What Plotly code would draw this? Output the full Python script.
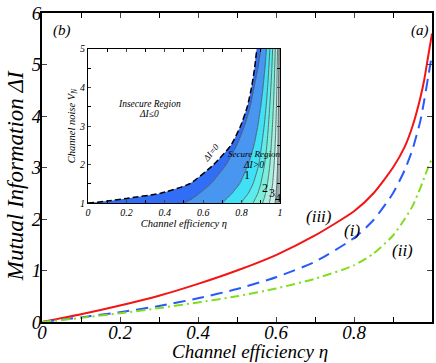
import plotly.graph_objects as go

# ---- main panel (a) data ----
eta = [0.0, 0.1, 0.2, 0.3, 0.4, 0.5, 0.6, 0.7, 0.8, 0.85, 0.9, 0.93, 0.95, 0.97, 0.98, 0.99, 1.0]
dI_iii = [0.0, 0.15, 0.32, 0.51, 0.74, 1.0, 1.3, 1.68, 2.15, 2.5, 3.0, 3.4, 3.8, 4.35, 4.7, 5.15, 5.6]
dI_i = [0.0, 0.09, 0.19, 0.31, 0.46, 0.64, 0.87, 1.17, 1.63, 1.98, 2.5, 2.95, 3.35, 3.9, 4.3, 4.75, 5.2]
dI_ii = [0.0, 0.08, 0.17, 0.27, 0.38, 0.5, 0.65, 0.84, 1.1, 1.33, 1.68, 2.0, 2.25, 2.6, 2.8, 3.0, 3.18]

x_ticks = [0, 0.2, 0.4, 0.6, 0.8, 1]
x_ticklabels = ["0", "0.2", "0.4", "0.6", "0.8", "1"]
y_ticks = [0, 1, 2, 3, 4, 5, 6]
y_ticklabels = ["0", "1", "2", "3", "4", "5", "6"]

# ---- inset (b) data: contour band boundaries (eta at each V_N level) ----
VN = [1.0, 1.05, 1.12, 1.25, 1.5, 2.0, 2.5, 3.0, 3.5, 4.0, 4.5, 5.0]
b0 = [0.0, 0.1, 0.2, 0.375, 0.53, 0.655, 0.745, 0.795, 0.83, 0.852, 0.868, 0.88]
b1 = [0.50, 0.52, 0.545, 0.58, 0.64, 0.72, 0.775, 0.815, 0.845, 0.865, 0.885, 0.90]
b2 = [0.70, 0.71, 0.725, 0.75, 0.79, 0.835, 0.865, 0.885, 0.90, 0.912, 0.922, 0.93]
b3 = [0.80, 0.805, 0.815, 0.835, 0.86, 0.89, 0.905, 0.918, 0.928, 0.936, 0.942, 0.948]
b4 = [0.86, 0.865, 0.872, 0.885, 0.90, 0.92, 0.932, 0.94, 0.947, 0.953, 0.958, 0.962]
b5 = [0.91, 0.913, 0.918, 0.925, 0.935, 0.948, 0.955, 0.961, 0.966, 0.97, 0.973, 0.976]
b6 = [0.945, 0.947, 0.95, 0.955, 0.962, 0.97, 0.975, 0.979, 0.982, 0.984, 0.986, 0.988]
b7 = [0.975, 0.976, 0.978, 0.98, 0.984, 0.988, 0.99, 0.991, 0.992, 0.993, 0.994, 0.995]
edge = [1.0] * len(VN)
boundaries = [b0, b1, b2, b3, b4, b5, b6, b7, edge]
band_colors = ["rgb(50,110,245)", "rgb(72,150,240)", "rgb(64,224,246)", "rgb(92,236,236)",
               "rgb(120,240,220)", "rgb(165,240,225)", "rgb(205,240,240)", "rgb(150,168,168)"]

inset_x_ticks = [0, 0.2, 0.4, 0.6, 0.8, 1]
inset_x_labels = ["0", "0.2", "0.4", "0.6", "0.8", "1"]
inset_y_ticks = [1, 2, 3, 4, 5]
inset_y_labels = ["1", "2", "3", "4", "5"]

SERIF = "Liberation Serif"


def it(labels):
    return ["<i>%s</i>" % s for s in labels]


fig = go.Figure()

# main curves
fig.add_trace(go.Scatter(x=eta, y=dI_iii, mode="lines",
                         line=dict(color="rgb(245,20,20)", width=2, shape="spline", smoothing=0.6),
                         showlegend=False, xaxis="x", yaxis="y"))
fig.add_trace(go.Scatter(x=eta, y=dI_i, mode="lines",
                         line=dict(color="rgb(40,90,250)", width=2, dash="12px,7px", shape="spline", smoothing=0.6),
                         showlegend=False, xaxis="x", yaxis="y"))
fig.add_trace(go.Scatter(x=eta, y=dI_ii, mode="lines",
                         line=dict(color="rgb(130,220,30)", width=2, dash="9px,4px,2px,4px", shape="spline",
                                   smoothing=0.6),
                         showlegend=False, xaxis="x", yaxis="y"))

# inset bands
for k in range(len(band_colors)):
    left = boundaries[k]
    right = boundaries[k + 1]
    xs = left + right[::-1]
    ys = VN + VN[::-1]
    fig.add_trace(go.Scatter(x=xs, y=ys, mode="lines", fill="toself", fillcolor=band_colors[k],
                             line=dict(width=0, color=band_colors[k], shape="spline", smoothing=0.5),
                             showlegend=False, xaxis="x2", yaxis="y2", hoverinfo="skip"))
# inset contour lines
for k in range(1, len(boundaries) - 1):
    fig.add_trace(go.Scatter(x=boundaries[k], y=VN, mode="lines",
                             line=dict(color="rgb(60,60,60)", width=0.7, shape="spline", smoothing=0.5),
                             showlegend=False, xaxis="x2", yaxis="y2", hoverinfo="skip"))
fig.add_trace(go.Scatter(x=b0, y=VN, mode="lines",
                         line=dict(color="black", width=1.5, dash="6px,3px", shape="spline", smoothing=0.5),
                         showlegend=False, xaxis="x2", yaxis="y2", hoverinfo="skip"))

tickf = dict(family=SERIF, size=19, color="black")
fig.update_layout(
    width=436, height=363,
    margin=dict(l=42, r=4, t=13, b=41),
    paper_bgcolor="white", plot_bgcolor="white",
    font=dict(family=SERIF, color="black"),
    xaxis=dict(domain=[0, 1], range=[0, 1], tickvals=x_ticks, ticktext=it(x_ticklabels), ticks="inside", ticklen=5,
               tickwidth=1, showline=True, linecolor="black", linewidth=2, mirror="ticks", showgrid=False,
               zeroline=False, tickfont=tickf, automargin=False, ticklabelstandoff=-8,
               minor=dict(dtick=0.1, ticks="inside", ticklen=5, tickcolor="black")),
    yaxis=dict(domain=[0, 1], range=[0, 6], tickvals=y_ticks, ticktext=it(y_ticklabels), ticks="inside", ticklen=5,
               tickwidth=1, showline=True, linecolor="black", linewidth=2, mirror="ticks", showgrid=False,
               zeroline=False, tickfont=tickf, automargin=False, ticklabelstandoff=-5),
    xaxis2=dict(domain=[0.118, 0.610], anchor="y2", range=[0, 1], tickvals=inset_x_ticks,
                ticktext=it(inset_x_labels), automargin=False,
                ticks="inside", ticklen=3, tickwidth=0.8, showline=True, linecolor="black", linewidth=1.2,
                mirror="ticks", showgrid=False, zeroline=False,
                tickfont=dict(family=SERIF, size=10, color="black"),
                minor=dict(dtick=0.1, ticks="inside", ticklen=3, tickcolor="black"),
                title=dict(text="<i>Channel efficiency η</i>", font=dict(family=SERIF, size=10.5, color="black"),
                           standoff=0)),
    yaxis2=dict(domain=[0.385, 0.8835], anchor="x2", range=[1, 5], tickvals=inset_y_ticks,
                ticktext=it(inset_y_labels), ticks="inside", automargin=False,
                ticklen=3, tickwidth=0.8, showline=True, linecolor="black", linewidth=1.2, mirror="ticks",
                showgrid=False, zeroline=False,
                tickfont=dict(family=SERIF, size=10, color="black"),
                minor=dict(dtick=0.5, ticks="inside", ticklen=3, tickcolor="black"),
                title=dict(text="<i>Channel noise V<sub>N</sub></i>",
                           font=dict(family=SERIF, size=10.5, color="black"), standoff=0)),
)

ann_font = dict(family=SERIF, size=15, color="black")
small_font = dict(family=SERIF, size=9.5, color="black")
annotations = [
    # main axis titles
    dict(text="<i>Channel efficiency η</i>", x=0.533, y=-0.097, xref="paper", yref="paper",
         font=dict(family=SERIF, size=19, color="black")),
    dict(text="<i>Mutual Information ΔI</i>", x=-0.069, y=0.472, xref="paper", yref="paper",
         textangle=-90, font=dict(family=SERIF, size=23, color="black")),
    dict(text="<i>(a)</i>", x=0.969, y=0.942, xref="paper", yref="paper", font=ann_font),
    dict(text="<i>(b)</i>", x=0.051, y=0.942, xref="paper", yref="paper", font=ann_font),
    dict(text="<i>(iii)</i>", x=0.71, y=2.04, xref="x", yref="y", font=dict(ann_font, size=17)),
    dict(text="<i>(i)</i>", x=0.795, y=1.77, xref="x", yref="y", font=dict(ann_font, size=17)),
    dict(text="<i>(ii)</i>", x=0.925, y=1.38, xref="x", yref="y", font=dict(ann_font, size=17)),
    dict(text="<i>Insecure Region</i>", x=0.32, y=3.57, xref="x2", yref="y2", font=small_font),
    dict(text="<i>ΔI≤0</i>", x=0.32, y=3.31, xref="x2", yref="y2", font=small_font),
    dict(text="<i>Secure Region</i>", x=0.865, y=2.27, xref="x2", yref="y2", font=dict(small_font, size=9)),
    dict(text="<i>ΔI>0</i>", x=0.86, y=2.0, xref="x2", yref="y2", font=small_font),
    dict(text="<i>ΔI=0</i>", x=0.64, y=2.3, xref="x2", yref="y2", textangle=-52, font=dict(small_font, size=9)),
    dict(text="1", x=0.83, y=1.73, xref="x2", yref="y2", font=dict(small_font, size=12)),
    dict(text="2", x=0.92, y=1.39, xref="x2", yref="y2", font=dict(small_font, size=12)),
    dict(text="3", x=0.96, y=1.25, xref="x2", yref="y2", font=dict(small_font, size=12)),
    dict(text="4", x=0.99, y=1.13, xref="x2", yref="y2", font=dict(small_font, size=12)),
]
for a in annotations:
    a.update(showarrow=False, xanchor="center", yanchor="middle")
fig.update_layout(annotations=annotations)

fig.write_html("out.html", config={"displayModeBar": False},
               post_script="document.body.style.margin='0px';")
